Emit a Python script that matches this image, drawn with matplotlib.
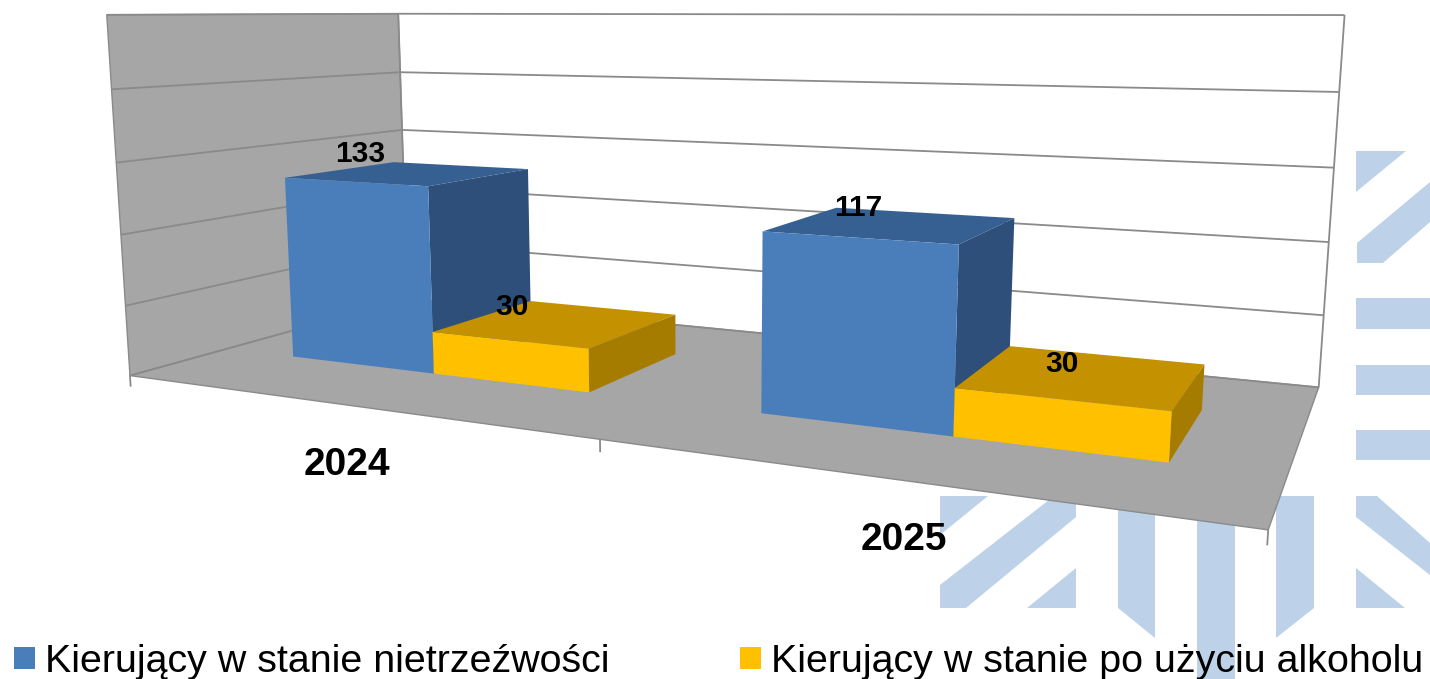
import numpy as np
import matplotlib
matplotlib.use("Agg")
import matplotlib.pyplot as plt
from matplotlib.patches import Patch, Polygon
from mpl_toolkits.mplot3d.art3d import Line3DCollection, Poly3DCollection

plt.rcParams['font.family'] = ['Liberation Sans', 'DejaVu Sans']

years = ["2024", "2025"]
nietrzezwi = [133, 117]
po_alkoholu = [30, 30]
z_ticks = [0, 50, 100, 150, 200, 250]
series_names = ["Kierujący w stanie nietrzeźwości", "Kierujący w stanie po użyciu alkoholu"]

W, H_PX = 1430, 679

# camera calibration: box corners (x, y, z) against where they sit in the picture
calib = [
    (0, 0, 0, 131, 376), (2, 0, 0, 1268, 530), (2, 1, 0, 1319, 387), (0, 1, 0, 405, 299),
    (0, 0, 250, 105, 15), (0, 1, 250, 399, 14), (2, 1, 250, 1344, 15), (1, 0, 0, 600, 440),
    (2, 1, 200, 1339, 92), (2, 1, 150, 1334, 168), (2, 1, 100, 1329, 242), (2, 1, 50, 1324, 315),
    (0, 0, 200, 111, 89), (0, 0, 150, 116, 163), (0, 0, 100, 121, 234), (0, 0, 50, 127, 305),
    (0, 1, 200, 401, 72), (0, 1, 150, 403, 130),
]


def fit_camera(points):
    # plain DLT, returns 3x4 matrix going to display pixels (y up)
    rows = []
    for x, y, z, u, v in points:
        p = [x, y, z / 250, 1]
        u = u / 1000
        v = (H_PX - v) / 1000
        rows.append(p + [0, 0, 0, 0] + [-u * c for c in p])
        rows.append([0, 0, 0, 0] + p + [-v * c for c in p])
    vt = np.linalg.svd(np.array(rows))[2]
    cam = vt[-1].reshape(3, 4)
    cam = cam / cam[2, 3]
    cam[:2] *= 1000
    cam[:, 2] /= 250
    return cam


cam = fit_camera(calib)

fig = plt.figure(figsize=(W / 100, H_PX / 100), dpi=100)

# faint logo behind the chart
bg = fig.add_axes([0, 0, 1, 1])
bg.set_xlim(0, W)
bg.set_ylim(H_PX, 0)
bg.set_xticks([])
bg.set_yticks([])
bg.axis("off")
logo = [
    [(1356, 151), (1406, 151), (1356, 192)],
    [(1357, 243), (1430, 182), (1430, 222), (1383, 263), (1357, 263)],
    [(1356, 298), (1430, 298), (1430, 329), (1356, 329)],
    [(1356, 365), (1430, 365), (1430, 395), (1356, 395)],
    [(1356, 430), (1430, 430), (1430, 460), (1356, 460)],
    [(940, 496), (988, 496), (940, 535)],
    [(940, 585), (1054, 496), (1076, 496), (1076, 517), (966, 608), (940, 608)],
    [(1076, 568), (1076, 608), (1027, 608)],
    [(1118, 496), (1155, 496), (1155, 638), (1118, 608)],
    [(1197, 496), (1235, 496), (1235, 679), (1197, 679)],
    [(1276, 496), (1314, 496), (1314, 608), (1276, 638)],
    [(1356, 496), (1377, 496), (1430, 543), (1430, 575), (1356, 517)],
    [(1356, 568), (1405, 608), (1356, 608)],
]
for part in logo:
    bg.add_patch(Polygon(part, closed=True, facecolor="#bdd2e8", edgecolor="none"))

ax = fig.add_axes([0, 0, 1, 1], projection="3d", computed_zorder=False)
ax.patch.set_alpha(0)
ax.set_xticks([])
ax.set_yticks([])
ax.set_zticks([])
ax.set_axis_off()
ax.apply_aspect = lambda position=None: None

# nothing of the axes furniture is drawn, so hide the empty titles and labels too
for a in (bg, ax):
    a.title.set_visible(False)
    a._left_title.set_visible(False)
    a._right_title.set_visible(False)
    for axis in a._axis_map.values():
        axis.set_visible(False)


def camera_proj():
    to_view = ax.transData.inverted().get_matrix()
    m = to_view @ cam
    return np.vstack([m[0], m[1], m[2] - [0, 0, 0, 1], m[2]])


ax.get_proj = camera_proj

GREY = "#a6a6a6"
LINE = "#8a8a8a"
top = z_ticks[-1]
walls = [
    [(0, 0, 0), (0, 1, 0), (0, 1, top), (0, 0, top)],
    [(0, 0, 0), (2, 0, 0), (2, 1, 0), (0, 1, 0)],
]
ax.add_collection3d(Poly3DCollection(walls, facecolors=GREY, edgecolors=LINE, linewidths=1, zorder=2), autolim=False)

segs = []
for z in z_ticks:
    segs.append([(0, 0, z), (0, 1, z)])
    segs.append([(0, 1, z), (2, 1, z)])
segs.append([(2, 1, 0), (2, 1, top)])
segs.append([(0, 1, 0), (0, 1, top)])
for xt in [0, 1, 2]:
    segs.append([(xt, 0, 0), (xt, 0, -8)])
ax.add_collection3d(Line3DCollection(segs, colors=LINE, linewidths=1.3, zorder=3), autolim=False)

x_pos = np.array([0, 1])
bar_w = 1 / 3
bar_left = 1 / 6
y0, y1 = 0.3, 0.7


def faces(front, topc, side):
    return ["none", topc, front, "none", "none", side] * 2


ax.bar3d(x_pos + bar_left, [y0] * 2, [0] * 2, bar_w, y1 - y0, nietrzezwi,
         color=faces("#4a7ebb", "#376092", "#2d4f7a"), shade=False, zorder=5)
ax.bar3d(x_pos + bar_left + bar_w, [y0] * 2, [0] * 2, bar_w, y1 - y0, po_alkoholu,
         color=faces("#ffc000", "#c49200", "#a67c00"), shade=False, zorder=6)

# value labels sit up and left of the bar tops
label_xy = [(-0.047, 0.887), (1.194, 0.749), (0.489, 0.638), (1.612, 0.600)]
for (lx, ly), val in zip(label_xy, nietrzezwi + po_alkoholu):
    ax.text(lx, ly, val - 1.5, str(val), fontsize=21.5, fontweight="bold", ha="center", va="center", zorder=8)
for (lx, ly), year in zip([(0.729, -0.335), (1.583, -0.285)], years):
    ax.text(lx, ly, 0, year, fontsize=28, fontweight="bold", ha="center", va="center", zorder=8)

handles = [Patch(facecolor="#4a7ebb"), Patch(facecolor="#ffc000")]
fig.legend(handles, series_names, ncol=2, loc="lower left", bbox_to_anchor=(14 / W, -1 / H_PX), frameon=False,
           fontsize=28.4, handlelength=0.53, handleheight=0.48, handletextpad=0.25, columnspacing=3.32,
           borderpad=0, borderaxespad=0)

fig.savefig("out.png", dpi=100)
